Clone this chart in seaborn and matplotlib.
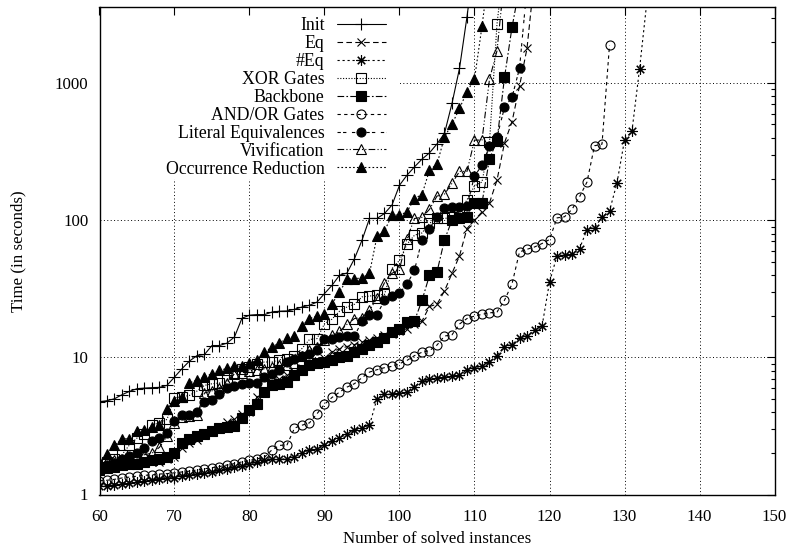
import numpy as np
import pandas as pd
import matplotlib
matplotlib.use("Agg")
import matplotlib.pyplot as plt
from matplotlib.patches import Rectangle
import seaborn as sns
from matplotlib.ticker import LogLocator, NullFormatter

# ---------------- data (x = number of solved instances, starting at 60) ----------------
first_instance = 60

init_t = [4.75, 4.83, 4.99, 5.34, 5.65, 5.91, 5.97, 6.01, 6.04, 6.25,
          7.18, 8.27, 9.40, 10.3, 10.5, 12.2, 12.2, 12.7, 14.1, 19.3,
          20.3, 20.5, 20.5, 21.4, 21.7, 21.8, 22.4, 23.3, 24.0, 25.3,
          29.2, 33.5, 39.7, 41.2, 52.5, 71.5, 103, 103, 112, 129,
          180, 213, 245, 279, 310, 360, 430, 711, 1280, 3050, 8000]

eq_t = [1.55, 1.58, 1.60, 1.62, 1.64, 1.66, 1.69, 1.72, 1.74, 1.80,
        1.87, 2.20, 2.37, 2.51, 2.70, 2.88, 3.05, 3.35, 3.57, 3.85,
        4.0, 5.15, 5.5, 6.6, 7.0, 7.39, 7.8, 8.3, 9.0, 9.3,
        9.9, 11.0, 11.5, 12.0, 12.4, 12.9, 13.4, 13.9, 14.5, 14.9,
        15.5, 16.2, 17.4, 18.4, 23.5, 24.4, 30.5, 41, 55, 87,
        100, 115, 134, 196, 367, 522, 950, 1790, 6000]

neq_t = [1.15, 1.16, 1.18, 1.19, 1.21, 1.23, 1.25, 1.27, 1.29, 1.31,
         1.33, 1.36, 1.38, 1.40, 1.43, 1.47, 1.50, 1.54, 1.58, 1.62,
         1.67, 1.74, 1.78, 1.80, 1.81, 1.82, 1.87, 2.0, 2.12, 2.14,
         2.3, 2.45, 2.6, 2.74, 2.93, 3.07, 3.2, 5.0, 5.37, 5.4,
         5.49, 5.55, 6.1, 6.71, 6.9, 7.05, 7.18, 7.27, 7.39, 8.13,
         8.41, 8.6, 9.25, 10.3, 12.0, 12.4, 13.9, 14.2, 15.9, 16.8,
         35.4, 55, 55.6, 57, 62, 85.5, 88.5, 105, 117, 187,
         384, 449, 1260, 4000]

xor_t = [1.6, 1.72, 1.82, 1.95, 2.3, 2.58, 2.74, 3.22, 3.32, 3.53,
         5.08, 5.15, 5.28, 5.68, 6.25, 6.42, 6.5, 6.79, 7.69, 8.27,
         8.5, 9.0, 9.25, 9.25, 9.6, 9.8, 10.3, 11.6, 13.5, 13.7,
         17.6, 19.0, 21.7, 23.3, 24.4, 27.6, 28.0, 28.4, 28.8, 44.4,
         51, 66.8, 77.8, 80.8, 95, 103, 103, 105, 115, 141,
         178, 190, 370, 2700, 8000]

backbone_t = [1.51, 1.57, 1.60, 1.63, 1.66, 1.68, 1.72, 1.77, 1.82, 1.89,
              2.0, 2.39, 2.55, 2.66, 2.75, 2.9, 3.05, 3.1, 3.15, 3.6,
              4.1, 4.6, 5.6, 6.25, 6.4, 6.6, 7.4, 8.1, 8.8, 9.1,
              9.25, 9.5, 10.0, 10.3, 10.9, 11.6, 12.4, 12.9, 13.9, 15.3,
              16.2, 18.1, 18.5, 26, 39.7, 42, 72, 100, 104, 106,
              134, 134, 280, 380, 1100, 2550, 5000]

andor_t = [1.26, 1.27, 1.29, 1.32, 1.34, 1.36, 1.38, 1.39, 1.41, 1.42,
           1.44, 1.46, 1.48, 1.51, 1.54, 1.57, 1.60, 1.64, 1.68, 1.73,
           1.77, 1.82, 1.87, 2.12, 2.28, 2.30, 3.05, 3.2, 3.33, 3.88,
           4.55, 5.1, 5.58, 6.07, 6.43, 7.11, 7.81, 8.13, 8.41, 8.6,
           9.0, 9.5, 10.3, 10.9, 11.2, 12.3, 14.3, 14.6, 17.5, 19.2,
           20.0, 20.6, 21.1, 21.4, 26.1, 34.3, 58.7, 61.4, 63.8, 67.6,
           72.3, 104, 106, 120, 148, 190, 349, 359, 1890]

liteq_t = [1.6, 1.65, 1.7, 1.8, 1.9, 2.0, 2.2, 2.45, 2.6, 2.8,
           3.45, 3.77, 3.8, 4.0, 4.72, 4.9, 5.4, 5.95, 6.2, 6.4,
           6.45, 6.55, 7.15, 7.5, 8.1, 9.25, 9.8, 10.2, 10.6, 11.4,
           13.5, 13.7, 14.1, 14.3, 14.3, 18.4, 20.3, 20.5, 26.1, 27.9,
           29.5, 34.1, 43.2, 72.3, 87, 106, 122, 124, 125, 128,
           210, 252, 347, 405, 665, 787, 1280, 5000]

viv_t = [1.6, 1.75, 1.77, 1.78, 1.8, 1.9, 1.95, 2.0, 2.21, 2.65,
         3.3, 3.7, 3.75, 3.8, 5.5, 5.7, 6.0, 6.5, 7.6, 7.7,
         8.0, 8.05, 8.27, 8.5, 8.74, 8.8, 9.1, 10.2, 11.4, 12.0,
         13.3, 14.5, 15.5, 17.4, 19.2, 19.5, 22.0, 27, 35, 41,
         44, 73.5, 103, 105, 120, 150, 155, 186, 227, 227,
         384, 384, 1070, 1720, 6000]

occred_t = [1.75, 1.96, 2.28, 2.55, 2.55, 2.90, 2.93, 3.10, 3.19, 4.2,
            4.8, 5.13, 6.5, 6.87, 7.2, 7.6, 8.04, 8.3, 8.6, 8.65,
            9.08, 9.5, 10.9, 11.9, 12.8, 13.8, 14.3, 17.0, 19.2, 20.0,
            20.6, 24.5, 30.0, 37.0, 37.5, 37.9, 41.0, 76.4, 83.6, 109,
            109, 115, 144, 154, 232, 256, 405, 502, 653, 865,
            1070, 2600, 7000]

labels = ["Init", "Eq", "#Eq", "XOR Gates", "Backbone", "AND/OR Gates",
          "Literal Equivalences", "Vivification", "Occurrence Reduction"]
values = [init_t, eq_t, neq_t, xor_t, backbone_t, andor_t, liteq_t, viv_t, occred_t]

x_ticks = list(range(60, 151, 10))
y_ticks = [1, 10, 100, 1000]
y_tick_labels = ["1", "10", "100", "1000"]

frames = []
for lab, vals in zip(labels, values):
    frames.append(pd.DataFrame({
        "series": lab,
        "instances": np.arange(first_instance, first_instance + len(vals)),
        "time": vals,
    }))
df = pd.concat(frames, ignore_index=True)

# ---------------- styles ----------------
styles = {
    "Init":                 dict(marker="+", ms=8, mfc="black", ls="-"),
    "Eq":                   dict(marker="x", ms=6, mfc="black", ls=(0, (5, 3))),
    "#Eq":                  dict(marker=(8, 2, 0), ms=7.5, mfc="black", ls=(0, (2, 2.5))),
    "XOR Gates":            dict(marker="s", ms=6.5, mfc="none", ls=(0, (1, 1.5))),
    "Backbone":             dict(marker="s", ms=6.5, mfc="black", ls=(0, (6, 2, 1.5, 2))),
    "AND/OR Gates":         dict(marker="o", ms=6.5, mfc="none", ls=(0, (3, 3))),
    "Literal Equivalences": dict(marker="o", ms=6.5, mfc="black", ls=(0, (3, 2, 3, 5))),
    "Vivification":         dict(marker="^", ms=7, mfc="none", ls=(0, (6, 2, 1, 2, 1, 2))),
    "Occurrence Reduction": dict(marker="^", ms=6.5, mfc="black", ls=(0, (1.5, 2))),
}

sns.set_theme(style="white", rc={
    "axes.edgecolor": "black", "axes.linewidth": 1.0,
    "xtick.color": "black", "ytick.color": "black",
    "text.color": "black", "axes.labelcolor": "black",
})
plt.rcParams["font.family"] = ["Liberation Serif", "DejaVu Serif"]
plt.rcParams["font.size"] = 12.2

fig = plt.figure(figsize=(7.93, 5.54), dpi=100)
ax = fig.add_axes([99.5 / 793, (554 - 494.5) / 554, 675 / 793, (494.5 - 7.3) / 554])
ax.set_yscale("log")
ax.set_axisbelow(False)

for lab in labels:
    st = styles[lab]
    sub = df[df["series"] == lab]
    sns.lineplot(data=sub, x="instances", y="time", ax=ax, color="black",
                 linestyle=st["ls"], linewidth=0.8, marker=st["marker"],
                 markersize=st["ms"], markerfacecolor=st["mfc"],
                 markeredgecolor="black", markeredgewidth=0.8,
                 label=lab, estimator=None, errorbar=None, sort=True, zorder=2)

ax.set_xlim(60, 150)
ax.set_ylim(1, 3570)
ax.set_xticks(x_ticks)
ax.set_xticklabels([str(t) for t in x_ticks])
ax.set_yticks(y_ticks)
ax.set_yticklabels(y_tick_labels)
ax.yaxis.set_minor_locator(LogLocator(base=10, subs=np.arange(2, 10)))
ax.yaxis.set_minor_formatter(NullFormatter())
ax.tick_params(which="both", direction="in", top=True, right=True, labelsize=12.2)
ax.tick_params(which="major", length=5.5, width=0.8)
ax.tick_params(which="minor", length=3, width=0.8)
ax.tick_params(axis="x", pad=10.5)
ax.tick_params(axis="y", pad=8)
for sp in ax.spines.values():
    sp.set_color("black")
    sp.set_linewidth(1.0)

# dotted grid at the major ticks, kept behind the data
grid_ls = (0, (1, 2.5))
for xv in x_ticks:
    ax.axvline(xv, color="black", linestyle=grid_ls, linewidth=0.7, zorder=1)
for yv in y_ticks:
    ax.axhline(yv, color="black", linestyle=grid_ls, linewidth=0.7, zorder=1)

# opaque key area (the grid is hidden behind the key, as in the original)
key_right = (400 - 99.5) / 675
key_bottom = 1 - (179 - 7.3) / 487.2
ax.add_patch(Rectangle((0, key_bottom), key_right, 1 - key_bottom,
                       transform=ax.transAxes, facecolor="white",
                       edgecolor="none", zorder=1.5))

ax.set_xlabel("Number of solved instances", fontsize=12.2)
ax.set_ylabel("Time (in seconds)", fontsize=12.2)
ax.xaxis.set_label_coords(0.5, -0.075)
ax.yaxis.set_label_coords(-0.108, 0.5)

leg = ax.legend(loc="upper left", bbox_to_anchor=(0.096, 0.982), markerfirst=False,
                frameon=False, borderpad=0.08, borderaxespad=0.0,
                handlelength=2.8, handletextpad=0.67, labelspacing=0.05,
                fontsize=12.8)

fig.savefig("out.png", dpi=100)
